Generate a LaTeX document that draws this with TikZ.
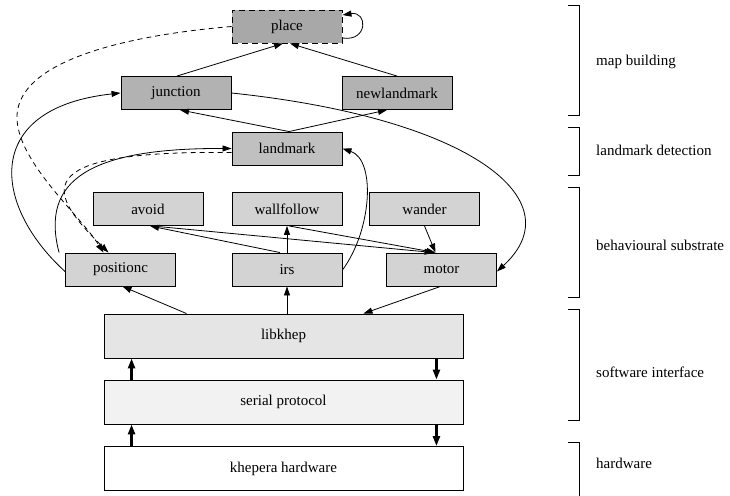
\documentclass[tikz,border=0pt]{standalone}
\usepackage{fontspec}
\setmainfont{Liberation Serif}
\usepackage{tikz}
\usetikzlibrary{positioning,arrows.meta,calc}
\definecolor{placegray}{RGB}{168,168,168}
\definecolor{mapgray}{RGB}{178,178,178}
\definecolor{lmgray}{RGB}{192,192,192}
\definecolor{behgray}{RGB}{211,211,211}
\definecolor{libgray}{RGB}{229,229,229}
\definecolor{sergray}{RGB}{242,242,242}
\tikzset{
  modbox/.style={draw, line width=0.9pt, font=\fontsize{15}{18}\selectfont,
    minimum width=110pt, minimum height=33pt, inner sep=2pt},
  layerbox/.style={modbox, minimum width=359pt, minimum height=44pt},
  modarrow/.style={-{Triangle[length=9pt,width=6pt]}, line width=0.8pt},
  busarrow/.style={-{Triangle[length=10pt,width=7pt]}, line width=2.4pt},
  linkdash/.style={dash pattern=on 5pt off 4pt},
  layerlabel/.style={font=\fontsize{15}{18}\selectfont, anchor=west, inner sep=0pt},
  bracketline/.style={line width=0.9pt},
}

\begin{document}
\begin{tikzpicture}[x=1pt, y=-1pt]
  \useasboundingbox (0,0) rectangle (730,495);
  % map building
  \node[modbox, fill=placegray, dash pattern=on 6pt off 4pt] (place) at (287,26.5) {place};
  \node[modbox, fill=mapgray] (junction) at (176,93) {junction};
  \node[modbox, fill=mapgray] (newlandmark) at (397,93) {newlandmark};
  % landmark detection
  \node[modbox, fill=lmgray] (landmark) at (287,148.5) {landmark};
  % behaviours
  \node[modbox, fill=behgray] (avoid) at (148,209) {avoid};
  \node[modbox, fill=behgray] (wallfollow) at (287,209) {wallfollow};
  \node[modbox, fill=behgray] (wander) at (424.5,209) {wander};
  \node[modbox, fill=behgray] (positionc) at (120.5,269.5) {positionc};
  \node[modbox, fill=behgray] (irs) at (287,269.5) {irs};
  \node[modbox, fill=behgray] (motor) at (441.5,269.5) {motor};
  % software and hardware
  \node[layerbox, fill=libgray] (libkhep) at (283.5,336) {libkhep};
  \node[layerbox, fill=sergray] (serial) at (283.5,402) {serial protocol};
  \node[layerbox, fill=white] (khepera) at (283.5,468.5) {khepera hardware};

  % upper connections
  \draw[modarrow] ([xshift=1pt]junction.north) -- ([xshift=-4pt]place.south);
  \draw[modarrow] (newlandmark.north) -- ([xshift=3pt]place.south);
  \draw[modarrow] (place.east |- 0,38) .. controls (368,42) and (368,11) .. (place.east |- 0,15);
  \draw[modarrow] ([xshift=2pt]landmark.north) -- ([xshift=4pt]junction.south);
  \draw[modarrow] ([xshift=2pt]landmark.north) -- ([xshift=-10pt]newlandmark.south);
  \draw[modarrow] (junction.east) .. controls (470,118) and (575,200) .. ([yshift=-2pt]motor.east);
  \draw[modarrow] ([yshift=-2pt]positionc.west) .. controls (-8,205) and (-18,108) .. (junction.west);
  \draw[modarrow] ([xshift=-6pt]positionc.north west) .. controls (40,180) and (90,148) .. (landmark.west);
  \draw[modarrow] (irs.east |- 0,270) .. controls (372,230) and (376,160) .. (landmark.east);
  \draw[modarrow, linkdash] ([yshift=-4pt]landmark.west) .. controls (20,150) and (50,195) .. ([xshift=-12pt]positionc.north);
  \draw[modarrow, linkdash] (place.west) .. controls (120,36) and (20,62) .. (17,115)
    .. controls (15,160) and (80,215) .. ([xshift=-17pt]positionc.north);

  % behavioural substrate
  \draw[modarrow] (irs.north) -- (wallfollow.south);
  \draw[modarrow] ([xshift=-7pt]irs.north) -- ([xshift=2pt]avoid.south);
  \draw[modarrow] ([xshift=2pt]wallfollow.south) -- ([xshift=-6pt]motor.north);
  \draw[modarrow] ([xshift=4pt]avoid.south) -- ([xshift=-8pt]motor.north);
  \draw[modarrow] (wander.south) -- ([xshift=-6pt]motor.north);

  % libkhep to behaviours
  \draw[modarrow] ([xshift=83pt]libkhep.north west) -- ([xshift=2pt]positionc.south);
  \draw[modarrow] (libkhep.north -| irs.south) -- (irs.south);
  \draw[modarrow] ([xshift=-1pt]motor.south) -- ([xshift=-100pt]libkhep.north east);

  % bus arrows
  \draw[busarrow] ([xshift=28pt]serial.north west) -- ([xshift=28pt]libkhep.south west);
  \draw[busarrow] ([xshift=-27pt]libkhep.south east) -- ([xshift=-27pt]serial.north east);
  \draw[busarrow] ([xshift=28pt]khepera.north west) -- ([xshift=28pt]serial.south west);
  \draw[busarrow] ([xshift=-27pt]serial.south east) -- ([xshift=-27pt]khepera.north east);

  % layer brackets
  \draw[bracketline] (568,5) -- (579,5) -- (579,115) -- (568,115);
  \draw[bracketline] (568,127) -- (579,127) -- (579,175) -- (568,175);
  \draw[bracketline] (568,187) -- (579,187) -- (579,297) -- (568,297);
  \draw[bracketline] (568,309) -- (579,309) -- (579,420) -- (568,420);
  \draw[bracketline] (568,442) -- (579,442) -- (579,500);
  \node[layerlabel] (lmap) at (596,62) {map building};
  \node[layerlabel] (ldet) at (596,150) {landmark detection};
  \node[layerlabel] (lbeh) at (596,245) {behavioural substrate};
  \node[layerlabel] (lsoft) at (596,372) {software interface};
  \node[layerlabel] (lhard) at (596,463) {hardware};
\end{tikzpicture}
\end{document}
